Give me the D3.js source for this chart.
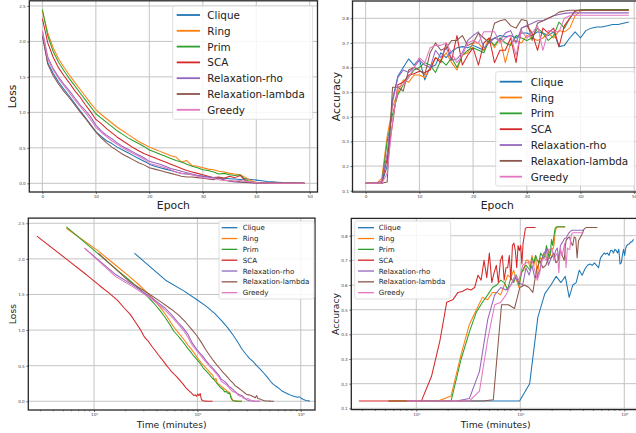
<!DOCTYPE html>
<html>
<head>
<meta charset="utf-8">
<script src="https://cdn.jsdelivr.net/npm/d3@7"></script>
<style>
  body { margin: 0; background: #fff; }
  svg { display: block; font-family: "DejaVu Sans", sans-serif; }
</style>
</head>
<body>
<svg id="chart" width="636" height="433"></svg>
<script>
const methods = ['Clique', 'Ring', 'Prim', 'SCA', 'Relaxation-rho', 'Relaxation-lambda', 'Greedy'];
const colors = ['#1f77b4', '#ff7f0e', '#2ca02c', '#d62728', '#9467bd', '#8c564b', '#e377c2'];

// minutes spent per epoch
const minutesPerEpoch = [24.6, 5.4, 5.4, 2.8, 8.1, 11, 8.1];

// loss per epoch (0..49)
const lossClique = [2.08,1.70,1.55,1.43,1.33,1.23,1.13,1.03,0.93,0.83,0.73,0.66,0.60,0.56,0.51,0.47,0.43,0.39,0.35,0.31,0.27,0.24,0.22,0.20,0.18,0.16,0.14,0.13,0.12,0.11,0.10,0.09,0.08,0.075,0.07,0.065,0.06,0.055,0.065,0.055,0.045,0.035,0.025,0.02,0.015,0.01,0.008,0.006,0.004,0.003];
const lossRing = [2.43,2.12,1.91,1.76,1.64,1.53,1.43,1.33,1.23,1.13,1.04,0.97,0.91,0.85,0.79,0.74,0.69,0.64,0.59,0.55,0.51,0.48,0.45,0.42,0.39,0.37,0.30,0.32,0.25,0.24,0.22,0.20,0.19,0.17,0.16,0.14,0.13,0.12,0.08,0.04,0.01,0.005,0.003,0.002,0.002,0.001,0.001,0.001,0.001,0.001];
const lossPrim = [2.45,2.08,1.86,1.71,1.59,1.48,1.38,1.28,1.18,1.08,0.98,0.92,0.86,0.80,0.74,0.69,0.64,0.60,0.56,0.52,0.47,0.44,0.41,0.38,0.35,0.32,0.30,0.27,0.24,0.22,0.19,0.18,0.16,0.13,0.14,0.12,0.11,0.12,0.05,0.02,0.01,0.004,0.003,0.002,0.001,0.001,0.001,0.001,0.001,0.001];
const lossSCA = [2.32,1.98,1.78,1.63,1.52,1.42,1.31,1.22,1.11,1.01,0.90,0.84,0.77,0.71,0.65,0.60,0.55,0.50,0.46,0.42,0.39,0.36,0.33,0.30,0.27,0.24,0.21,0.18,0.16,0.14,0.12,0.10,0.08,0.09,0.07,0.10,0.08,0.11,0.03,0.01,0.005,0.003,0.002,0.001,0.001,0.001,0.001,0.001,0.001,0.001];
const lossRho = [2.15,1.78,1.62,1.50,1.40,1.31,1.21,1.11,1.03,0.94,0.82,0.74,0.68,0.63,0.57,0.52,0.48,0.44,0.40,0.36,0.31,0.29,0.27,0.24,0.21,0.19,0.17,0.15,0.13,0.11,0.10,0.09,0.08,0.07,0.05,0.03,0.02,0.015,0.01,0.006,0.004,0.003,0.002,0.001,0.001,0.001,0.001,0.001,0.001,0.001];
const lossLambda = [2.08,1.68,1.52,1.40,1.30,1.21,1.11,1.01,0.92,0.82,0.72,0.64,0.57,0.51,0.46,0.41,0.37,0.33,0.29,0.26,0.22,0.20,0.18,0.16,0.14,0.12,0.10,0.09,0.09,0.08,0.07,0.06,0.05,0.08,0.04,0.035,0.03,0.02,0.015,0.01,0.008,0.005,0.004,0.003,0.002,0.002,0.001,0.001,0.001,0.001];
const lossGreedy = [2.15,1.75,1.60,1.48,1.38,1.28,1.18,1.09,1.00,0.90,0.79,0.72,0.66,0.60,0.55,0.50,0.46,0.42,0.38,0.34,0.28,0.26,0.24,0.22,0.19,0.16,0.14,0.13,0.12,0.10,0.08,0.07,0.07,0.05,0.04,0.04,0.03,0.04,0.03,0.02,0.01,0.005,0.003,0.002,0.001,0.001,0.001,0.001,0.001,0.001];

// accuracy per epoch (0..49)
const accClique = [0.13,0.13,0.13,0.13,0.20,0.47,0.565,0.60,0.635,0.61,0.635,0.55,0.60,0.61,0.66,0.64,0.665,0.68,0.685,0.68,0.69,0.68,0.67,0.71,0.72,0.73,0.725,0.73,0.72,0.74,0.74,0.73,0.745,0.74,0.73,0.745,0.685,0.69,0.72,0.745,0.72,0.75,0.76,0.765,0.765,0.77,0.775,0.775,0.78,0.785];
const accRing = [0.13,0.13,0.13,0.15,0.32,0.44,0.50,0.55,0.54,0.57,0.57,0.56,0.60,0.64,0.63,0.66,0.62,0.59,0.65,0.66,0.70,0.70,0.67,0.72,0.68,0.72,0.62,0.70,0.71,0.70,0.73,0.72,0.71,0.72,0.74,0.72,0.75,0.745,0.76,0.81,0.83,0.835,0.835,0.835,0.835,0.835,0.835,0.835,0.835,0.835];
const accPrim = [0.13,0.13,0.13,0.13,0.30,0.41,0.49,0.53,0.56,0.59,0.60,0.62,0.61,0.58,0.63,0.61,0.64,0.60,0.65,0.67,0.68,0.67,0.66,0.71,0.69,0.72,0.70,0.69,0.73,0.72,0.71,0.72,0.76,0.74,0.71,0.73,0.785,0.76,0.80,0.83,0.835,0.836,0.836,0.836,0.836,0.836,0.836,0.836,0.836,0.836];
const accSCA = [0.13,0.13,0.13,0.13,0.23,0.37,0.53,0.54,0.57,0.575,0.585,0.58,0.59,0.64,0.62,0.70,0.63,0.73,0.61,0.65,0.68,0.61,0.70,0.72,0.62,0.67,0.67,0.72,0.62,0.76,0.77,0.74,0.67,0.76,0.74,0.76,0.685,0.77,0.80,0.83,0.833,0.833,0.833,0.833,0.833,0.833,0.833,0.833,0.833,0.833];
const accRho = [0.13,0.13,0.13,0.14,0.25,0.46,0.56,0.59,0.58,0.60,0.63,0.61,0.60,0.67,0.64,0.68,0.63,0.635,0.66,0.71,0.73,0.745,0.68,0.70,0.72,0.71,0.74,0.75,0.70,0.76,0.77,0.78,0.79,0.79,0.80,0.81,0.815,0.82,0.822,0.822,0.822,0.822,0.822,0.822,0.822,0.822,0.822,0.822,0.822,0.822];
const accLambda = [0.13,0.13,0.13,0.13,0.135,0.52,0.52,0.505,0.59,0.60,0.59,0.57,0.66,0.70,0.67,0.68,0.71,0.71,0.73,0.69,0.70,0.74,0.72,0.70,0.78,0.79,0.795,0.77,0.76,0.795,0.79,0.71,0.78,0.79,0.80,0.81,0.825,0.83,0.833,0.833,0.833,0.833,0.833,0.833,0.833,0.833,0.833,0.833,0.833,0.833];
const accGreedy = [0.13,0.13,0.13,0.13,0.17,0.38,0.52,0.53,0.56,0.60,0.64,0.62,0.68,0.69,0.69,0.70,0.66,0.62,0.65,0.70,0.71,0.70,0.745,0.745,0.745,0.70,0.72,0.73,0.65,0.75,0.72,0.74,0.77,0.67,0.75,0.745,0.745,0.80,0.81,0.812,0.812,0.812,0.812,0.812,0.812,0.812,0.812,0.812,0.812,0.812];

const lossSeries = [lossClique, lossRing, lossPrim, lossSCA, lossRho, lossLambda, lossGreedy];
const accSeries = [accClique, accRing, accPrim, accSCA, accRho, accLambda, accGreedy];

const lossTicks = [0, 0.5, 1, 1.5, 2, 2.5];
const accTicks = [0.1, 0.2, 0.3, 0.4, 0.5, 0.6, 0.7, 0.8];
const epochTicks = [0, 10, 20, 30, 40, 50];
const timeTicks = [10, 100, 1000];
const supers = { 10: '10\u00b9', 100: '10\u00b2', 1000: '10\u00b3' };

const svg = d3.select('#chart');

const panels = [
  { id: 'tl', series: lossSeries, time: false, left: 29.3, right: 317.5, top: 0.8, bottom: 192,
    xDomain: [-2.45, 51.45], yDomain: [-0.1225, 2.5725], yTicks: lossTicks,
    yLabel: 'Loss', xLabel: 'Epoch', labelSize: 10.8, yLabelX: 12, xLabelY: 209,
    legend: { x: 172.7, y: 6, w: 140, h: 113.3, row0: 15, dy: 15.8, h0: 176.7, h1: 200, tx: 207.3, size: 10.4, lw: 1.8 } },
  { id: 'tr', series: accSeries, time: false, left: 352.5, right: 642, top: 1, bottom: 192,
    xDomain: [-2.45, 51.45], yDomain: [0.0948, 0.8702], yTicks: accTicks,
    yLabel: 'Accuracy', xLabel: 'Epoch', labelSize: 10.8, yLabelX: 336.5, xLabelY: 209,
    legend: { x: 495.7, y: 71.7, w: 139, h: 114.3, row0: 81.7, dy: 15.83, h0: 499.7, h1: 522, tx: 530.7, size: 10.4, lw: 1.8 } },
  { id: 'bl', series: lossSeries, time: true, left: 28.3, right: 315, top: 218.1, bottom: 410,
    xDomain: [2.312, 1374], yDomain: [-0.1225, 2.5725], yTicks: lossTicks,
    yLabel: 'Loss', xLabel: 'Time (minutes)', labelSize: 9.2, yLabelX: 12, xLabelY: 427.5,
    legend: { x: 219, y: 221, w: 95, h: 78, row0: 227.7, dy: 10.83, h0: 221.7, h1: 237.3, tx: 242.7, size: 7.1, lw: 1.3 } },
  { id: 'br', series: accSeries, time: true, left: 351.3, right: 640, top: 218.4, bottom: 409.6,
    xDomain: [2.371, 1416], yDomain: [0.0948, 0.8702], yTicks: accTicks,
    yLabel: 'Accuracy', xLabel: 'Time (minutes)', labelSize: 9.2, yLabelX: 335, xLabelY: 427.5,
    legend: { x: 354.7, y: 221, w: 96, h: 78, row0: 227.7, dy: 10.83, h0: 358, h1: 374, tx: 378.7, size: 7.1, lw: 1.3 } }
];

panels.forEach(drawPanel);

function drawPanel(p) {
  const g = svg.append('g').attr('class', 'panel-' + p.id);
  const x = p.time
    ? d3.scaleLog().domain(p.xDomain).range([p.left, p.right])
    : d3.scaleLinear().domain(p.xDomain).range([p.left, p.right]);
  const y = d3.scaleLinear().domain(p.yDomain).range([p.bottom, p.top]);
  const xTicks = p.time ? timeTicks : epochTicks;

  g.append('clipPath').attr('id', 'clip-' + p.id)
    .append('rect')
    .attr('x', p.left).attr('y', p.top)
    .attr('width', p.right - p.left).attr('height', p.bottom - p.top);

  // grid
  const grid = g.append('g').attr('stroke', '#c4c4c4').attr('stroke-width', 1);
  grid.selectAll('.gx').data(xTicks).enter().append('line')
    .attr('x1', d => x(d)).attr('x2', d => x(d))
    .attr('y1', p.top).attr('y2', p.bottom);
  grid.selectAll('.gy').data(p.yTicks).enter().append('line')
    .attr('x1', p.left).attr('x2', p.right)
    .attr('y1', d => y(d)).attr('y2', d => y(d));

  // lines
  const line = d3.line()
    .x(d => x(d.x))
    .y(d => y(d.v));

  g.append('g').attr('clip-path', `url(#clip-${p.id})`)
    .selectAll('path')
    .data(p.series.map((vals, k) => vals.map((v, e) => ({
      x: p.time ? (e + 1) * minutesPerEpoch[k] : e,
      v: v
    }))))
    .enter()
    .append('path')
    .attr('fill', 'none')
    .attr('stroke', (d, k) => colors[k])
    .attr('stroke-width', 1.05)
    .attr('stroke-linejoin', 'round')
    .attr('d', line);

  // axes
  const xAxis = d3.axisBottom(x).tickValues(xTicks).tickSize(2).tickPadding(1.5)
    .tickFormat(d => p.time ? supers[d] : d);
  const yAxis = d3.axisLeft(y).tickValues(p.yTicks).tickSize(2).tickPadding(1.5)
    .tickFormat(d3.format('.1f'));

  const gx = g.append('g').attr('transform', `translate(0,${p.bottom})`).call(xAxis);
  const gy = g.append('g').attr('transform', `translate(${p.left},0)`).call(yAxis);

  if (p.time) {
    const minor = [];
    [1, 10, 100, 1000].forEach(dec => {
      for (let m = 2; m <= 9; m++) {
        const t = dec * m;
        if (t > p.xDomain[0] && t < p.xDomain[1]) minor.push(t);
      }
    });
    g.append('g').attr('transform', `translate(0,${p.bottom})`)
      .call(d3.axisBottom(x).tickValues(minor).tickSize(1.3).tickFormat(''))
      .call(a => a.select('.domain').remove())
      .selectAll('line').attr('stroke', '#333').attr('stroke-width', 0.6);
  }

  [gx, gy].forEach(a => {
    a.select('.domain').remove();
    a.selectAll('line').attr('stroke', '#333').attr('stroke-width', 0.7);
    a.selectAll('text').attr('fill', '#444').style('font-size', '4.2px')
      .style('font-family', '"DejaVu Sans", sans-serif');
  });

  // frame
  g.append('rect')
    .attr('x', p.left).attr('y', p.top)
    .attr('width', p.right - p.left).attr('height', p.bottom - p.top)
    .attr('fill', 'none').attr('stroke', '#262626').attr('stroke-width', 1.3);

  // axis labels
  g.append('text')
    .attr('transform', `translate(${p.yLabelX},${(p.top + p.bottom) / 2}) rotate(-90)`)
    .attr('text-anchor', 'middle').attr('dominant-baseline', 'central')
    .style('font-size', p.labelSize + 'px').attr('fill', '#222')
    .text(p.yLabel);
  g.append('text')
    .attr('x', (p.left + p.right) / 2).attr('y', p.xLabelY)
    .attr('text-anchor', 'middle')
    .style('font-size', p.labelSize + 'px').attr('fill', '#222')
    .text(p.xLabel);

  // legend
  const L = p.legend;
  const lg = g.append('g');
  lg.append('rect')
    .attr('x', L.x).attr('y', L.y).attr('width', L.w).attr('height', L.h)
    .attr('rx', 2).attr('fill', '#fff').attr('fill-opacity', 0.85)
    .attr('stroke', '#d6d6d6').attr('stroke-width', 0.8);
  const items = lg.selectAll('.item').data(methods).enter().append('g')
    .attr('transform', (d, i) => `translate(0,${L.row0 + i * L.dy})`);
  items.append('line')
    .attr('x1', L.h0).attr('x2', L.h1).attr('y1', 0).attr('y2', 0)
    .attr('stroke', (d, i) => colors[i]).attr('stroke-width', L.lw);
  items.append('text')
    .attr('x', L.tx).attr('y', 0).attr('dominant-baseline', 'central')
    .style('font-size', L.size + 'px').attr('fill', '#222')
    .text(d => d);
}
</script>
</body>
</html>
